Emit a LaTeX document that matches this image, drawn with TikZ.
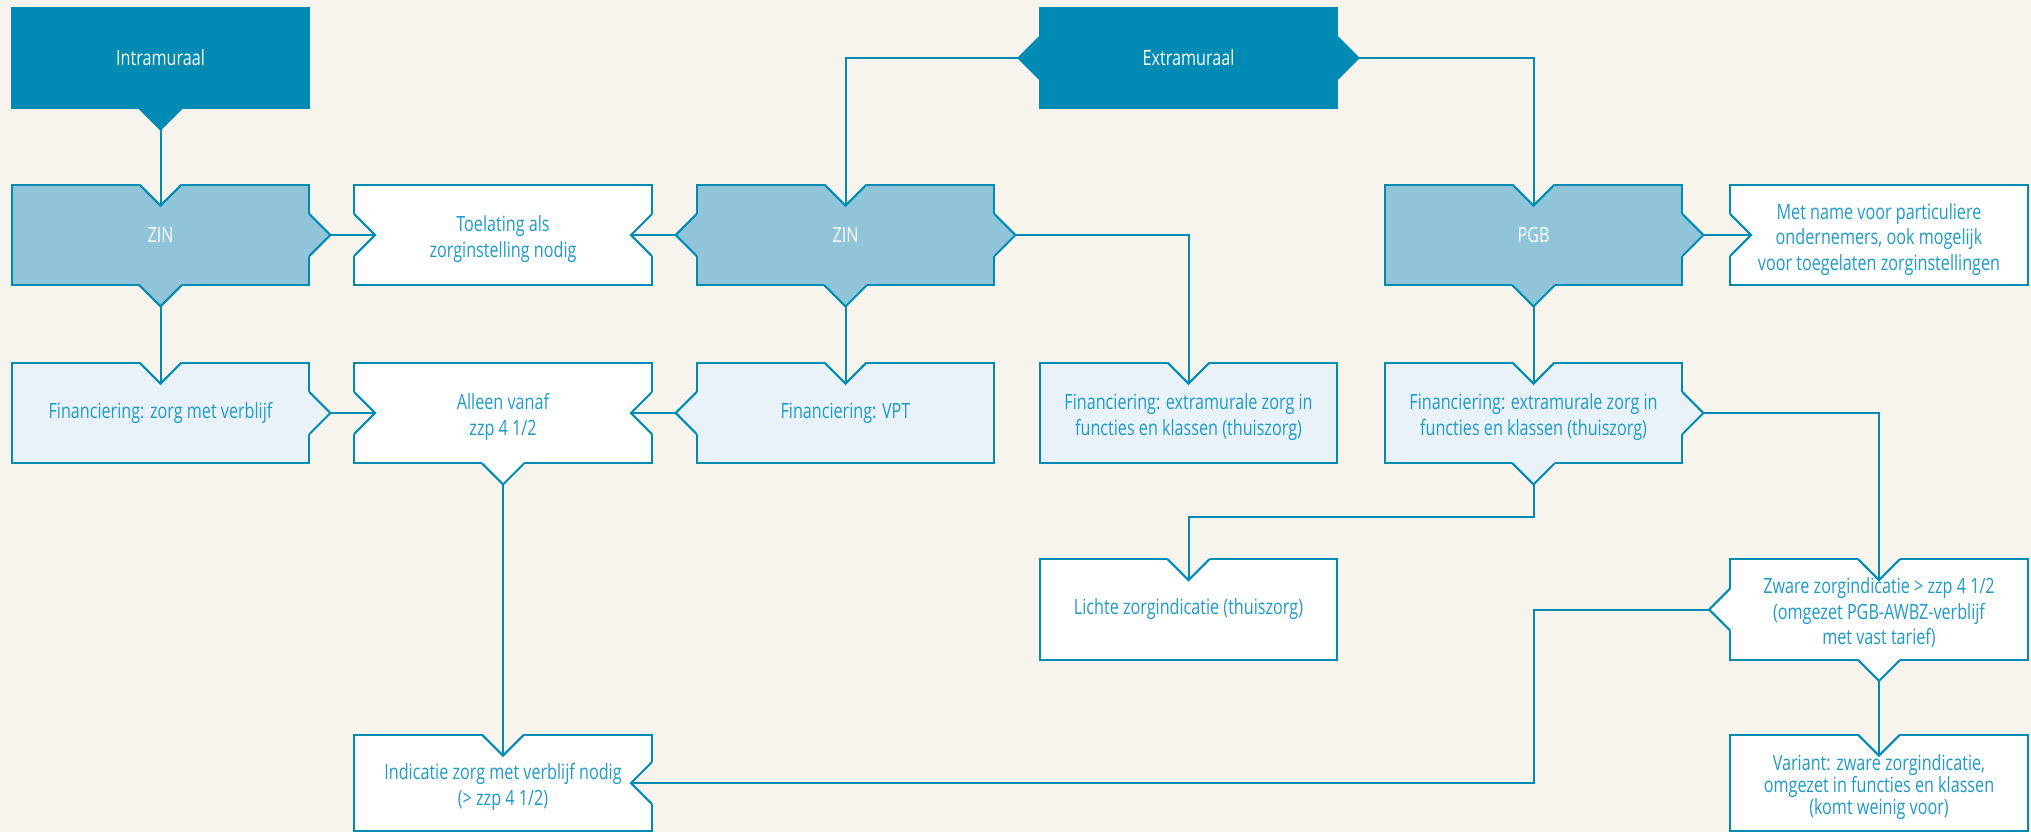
\documentclass[tikz,border=0pt]{standalone}
\usepackage{fontspec}
\setmainfont{Open Sans}[FakeStretch=0.77]
\usepackage{tikz}

\definecolor{bg}{RGB}{247,244,238}
\definecolor{darkblue}{RGB}{0,139,181}
\definecolor{midblue}{RGB}{143,196,217}
\definecolor{lightblue}{RGB}{232,242,248}
\definecolor{edgeblue}{RGB}{0,139,181}
\definecolor{textblue}{RGB}{30,154,199}

\newcommand{\upstrut}{\rule{0pt}{12.5pt}}
\newcommand{\dnstrut}{\rule[-3pt]{0pt}{0pt}}

\pgfdeclarelayer{back}
\pgfdeclarelayer{mid}
\pgfsetlayers{back,mid,main}

\begin{document}
\begin{tikzpicture}[x=0.5pt, y=-0.5pt,
        box/.style={minimum width=148.5pt, minimum height=50pt, inner sep=0pt, align=center,
            font=\fontsize{10.5}{12.75}\selectfont, text=textblue},
        darkbox/.style={box, text=white},
        midbox/.style={box, text=white},
        wire/.style={draw=edgeblue, line width=1pt, line join=miter},
        vee/.pic={
            \fill[#1] (-21,-2) -- (-21,0) -- (0,21) -- (21,0) -- (21,-2) -- cycle;
            \draw[wire] (-21,0) -- (0,21) -- (21,0);
            \coordinate (-tip) at (0,21);
        }]
        \useasboundingbox (0,0) rectangle (2031,832);

        \node[darkbox] (intra) at (160.5,58) {Intramuraal};
        \node[darkbox] (extra) at (1188.5,58) {Extramuraal};

        \node[midbox] (zinA) at (160.5,235) {ZIN};
        \node[box] (toel) at (503,235) {\upstrut Toelating als\\zorginstelling nodig\dnstrut};
        \node[midbox] (zinC) at (845.5,235) {ZIN};
        \node[midbox] (pgb) at (1533.5,235) {PGB};
        \node[box] (metname) at (1879,235) {\upstrut Met name voor particuliere\\ondernemers, ook mogelijk\\voor toegelaten zorginstellingen\dnstrut};

        \node[box] (finA) at (160.5,413) {Financiering: zorg met verblijf};
        \node[box] (alleen) at (503,413) {\upstrut Alleen vanaf\\zzp 4 1/2\dnstrut};
        \node[box] (vpt) at (845.5,413) {Financiering: VPT};
        \node[box] (finD) at (1188.5,413) {\upstrut Financiering: extramurale zorg in\\functies en klassen (thuiszorg)\dnstrut};
        \node[box] (finE) at (1533.5,413) {\upstrut Financiering: extramurale zorg in\\functies en klassen (thuiszorg)\dnstrut};

        \node[box] (lichte) at (1188.5,609.5) {Lichte zorgindicatie (thuiszorg)};
        \node[box] (zware) at (1879,609.5) {\upstrut Zware zorgindicatie > zzp 4 1/2\\(omgezet PGB-AWBZ-verblijf\\met vast tarief)\dnstrut};

        \node[box, minimum height=48pt] (indic) at (503,783) {\upstrut Indicatie zorg met verblijf nodig\\(> zzp 4 1/2)\dnstrut};
        \node[box, minimum height=48pt, font=\fontsize{10.5}{10.8}\selectfont] (variant) at (1879,783) {\upstrut Variant: zware zorgindicatie,\\omgezet in functies en klassen\\(komt weinig voor)\dnstrut};

        \begin{pgfonlayer}{back}
            \fill[bg] (0,0) rectangle (2031,832);
            \foreach \n/\c in {intra/darkblue, extra/darkblue, zinA/midblue, zinC/midblue, pgb/midblue,
                    toel/white, metname/white, finA/lightblue, alleen/white, vpt/lightblue, finD/lightblue,
                    finE/lightblue, lichte/white, zware/white, indic/white, variant/white}
                \draw[wire, fill=\c] (\n.north west) rectangle (\n.south east);
        \end{pgfonlayer}

        \begin{pgfonlayer}{mid}
            \pic (intraB) at (intra.south) {vee=darkblue};
            \pic[rotate=-90] (extraL) at (extra.west) {vee=darkblue};
            \pic[rotate=90] (extraR) at (extra.east) {vee=darkblue};

            \pic (zinAT) at (zinA.north) {vee=bg};
            \pic[rotate=90] (zinAR) at (zinA.east) {vee=midblue};
            \pic (zinAB) at (zinA.south) {vee=midblue};
            \pic[rotate=90] (toelL) at (toel.west) {vee=bg};
            \pic[rotate=-90] (toelR) at (toel.east) {vee=bg};
            \pic (zinCT) at (zinC.north) {vee=bg};
            \pic[rotate=-90] (zinCL) at (zinC.west) {vee=midblue};
            \pic[rotate=90] (zinCR) at (zinC.east) {vee=midblue};
            \pic (zinCB) at (zinC.south) {vee=midblue};
            \pic (pgbT) at (pgb.north) {vee=bg};
            \pic[rotate=90] (pgbR) at (pgb.east) {vee=midblue};
            \pic (pgbB) at (pgb.south) {vee=midblue};
            \pic[rotate=90] (metL) at (metname.west) {vee=bg};

            \pic (finAT) at (finA.north) {vee=bg};
            \pic[rotate=90] (finAR) at (finA.east) {vee=lightblue};
            \pic[rotate=90] (alleenL) at (alleen.west) {vee=bg};
            \pic[rotate=-90] (alleenR) at (alleen.east) {vee=bg};
            \pic (alleenB) at (alleen.south) {vee=white};
            \pic (vptT) at (vpt.north) {vee=bg};
            \pic[rotate=-90] (vptL) at (vpt.west) {vee=lightblue};
            \pic (finDT) at (finD.north) {vee=bg};
            \pic (finET) at (finE.north) {vee=bg};
            \pic[rotate=90] (finER) at (finE.east) {vee=lightblue};
            \pic (finEB) at (finE.south) {vee=lightblue};

            \pic (lichteT) at (lichte.north) {vee=bg};
            \pic (zwareT) at (zware.north) {vee=bg};
            \pic[rotate=-90] (zwareL) at (zware.west) {vee=white};
            \pic (zwareB) at (zware.south) {vee=white};
            \pic (indicT) at (indic.north) {vee=bg};
            \pic[rotate=-90] (indicR) at (indic.east) {vee=bg};
            \pic (variantT) at (variant.north) {vee=bg};
        \end{pgfonlayer}

        \draw[wire] (intraB-tip) -- (zinAT-tip);
        \draw[wire] (extraL-tip) -| (zinCT-tip);
        \draw[wire] (extraR-tip) -| (pgbT-tip);
        \draw[wire] (zinAR-tip) -- (toelL-tip);
        \draw[wire] (zinCL-tip) -- (toelR-tip);
        \draw[wire] (zinCR-tip) -| (finDT-tip);
        \draw[wire] (pgbR-tip) -- (metL-tip);
        \draw[wire] (zinAB-tip) -- (finAT-tip);
        \draw[wire] (zinCB-tip) -- (vptT-tip);
        \draw[wire] (pgbB-tip) -- (finET-tip);
        \draw[wire] (finAR-tip) -- (alleenL-tip);
        \draw[wire] (vptL-tip) -- (alleenR-tip);
        \draw[wire] (finEB-tip) -- ++(0,33) -| (lichteT-tip);
        \draw[wire] (finER-tip) -| (zwareT-tip);
        \draw[wire] (alleenB-tip) -- (indicT-tip);
        \draw[wire] (zwareL-tip) -| (finE.south |- indicR-tip) -- (indicR-tip);
        \draw[wire] (zwareB-tip) -- (variantT-tip);
\end{tikzpicture}
\end{document}
